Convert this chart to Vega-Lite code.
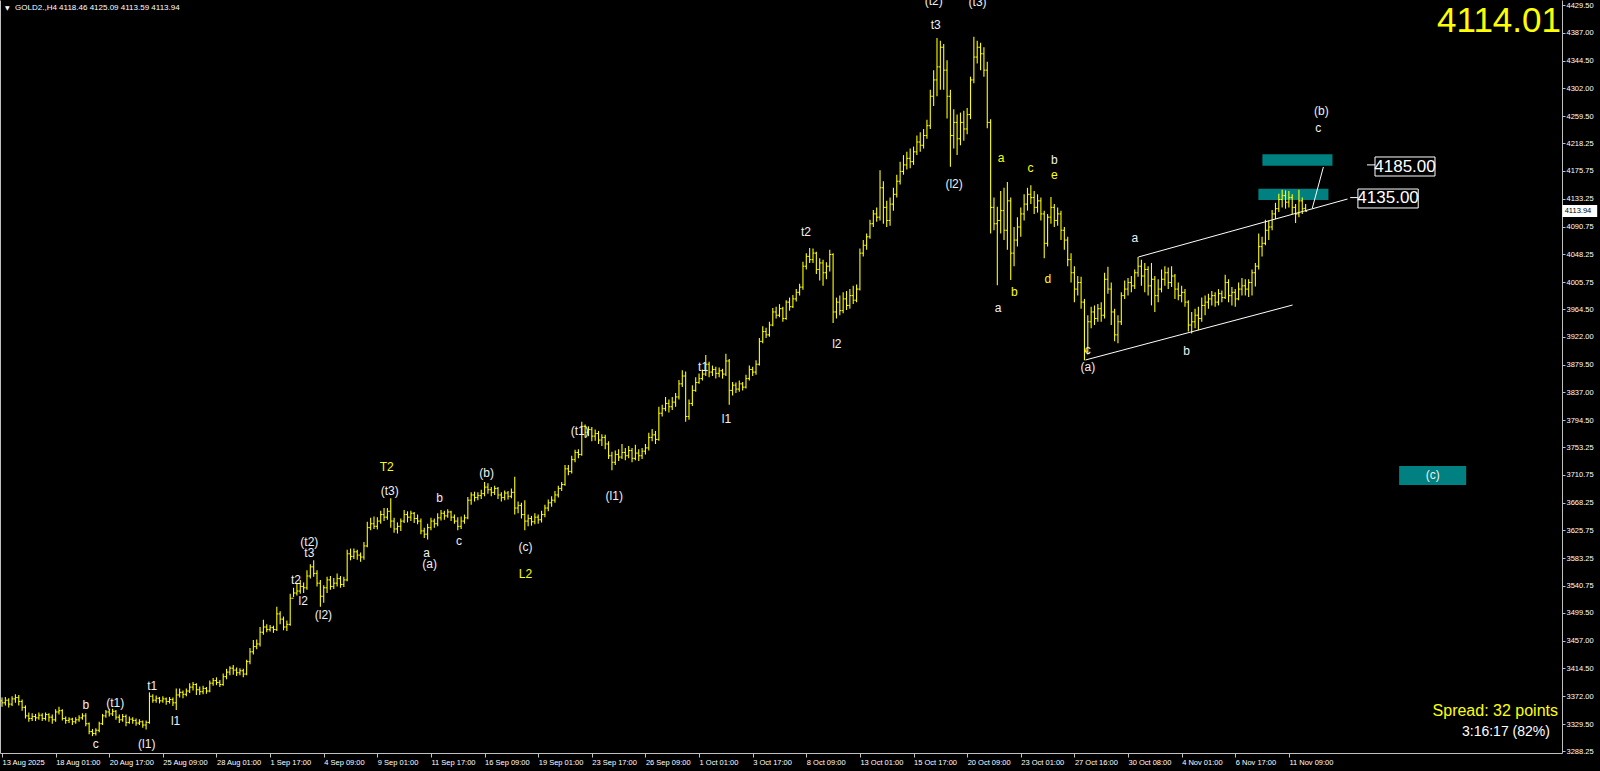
{
"$schema":"https://vega.github.io/schema/vega-lite/v6.json",
"width":1562,"height":753,
"autosize":{"type":"none"},
"padding":{"left":0,"top":0,"right":38,"bottom":18},
"background":"#000000",
"config":{"view":{"stroke":null},"axis":{"grid":false,"title":null,"labelOverlap":false,"labelFlush":false,"labelBound":false}},
"resolve":{"axis":{"y":"independent"}},
"datasets":{
"bars":[
{"i":0,"o":3365,"h":3370,"l":3356,"c":3362},
{"i":1,"o":3362,"h":3371,"l":3358,"c":3366},
{"i":2,"o":3366,"h":3369,"l":3355,"c":3360},
{"i":3,"o":3360,"h":3372,"l":3357,"c":3368},
{"i":4,"o":3368,"h":3375,"l":3362,"c":3370},
{"i":5,"o":3370,"h":3374,"l":3358,"c":3364},
{"i":6,"o":3364,"h":3367,"l":3350,"c":3355},
{"i":7,"o":3355,"h":3358,"l":3338,"c":3342},
{"i":8,"o":3342,"h":3347,"l":3333,"c":3338},
{"i":9,"o":3338,"h":3346,"l":3334,"c":3341},
{"i":10,"o":3341,"h":3345,"l":3334,"c":3339},
{"i":11,"o":3339,"h":3347,"l":3336,"c":3343},
{"i":12,"o":3343,"h":3346,"l":3334,"c":3338},
{"i":13,"o":3338,"h":3347,"l":3335,"c":3344},
{"i":14,"o":3344,"h":3346,"l":3333,"c":3340},
{"i":15,"o":3340,"h":3344,"l":3330,"c":3336},
{"i":16,"o":3336,"h":3352,"l":3333,"c":3348},
{"i":17,"o":3348,"h":3356,"l":3344,"c":3350},
{"i":18,"o":3350,"h":3352,"l":3335,"c":3338},
{"i":19,"o":3338,"h":3341,"l":3330,"c":3335},
{"i":20,"o":3335,"h":3340,"l":3331,"c":3337},
{"i":21,"o":3337,"h":3339,"l":3328,"c":3333},
{"i":22,"o":3333,"h":3340,"l":3330,"c":3336},
{"i":23,"o":3336,"h":3343,"l":3333,"c":3339},
{"i":24,"o":3339,"h":3346,"l":3336,"c":3342},
{"i":25,"o":3342,"h":3346,"l":3326,"c":3330},
{"i":26,"o":3330,"h":3332,"l":3314,"c":3318},
{"i":27,"o":3318,"h":3322,"l":3311,"c":3315},
{"i":28,"o":3315,"h":3323,"l":3312,"c":3320},
{"i":29,"o":3320,"h":3333,"l":3317,"c":3330},
{"i":30,"o":3330,"h":3345,"l":3328,"c":3342},
{"i":31,"o":3342,"h":3351,"l":3339,"c":3348},
{"i":32,"o":3348,"h":3352,"l":3341,"c":3345},
{"i":33,"o":3345,"h":3353,"l":3342,"c":3349},
{"i":34,"o":3349,"h":3351,"l":3336,"c":3340},
{"i":35,"o":3340,"h":3344,"l":3331,"c":3336},
{"i":36,"o":3336,"h":3345,"l":3333,"c":3341},
{"i":37,"o":3341,"h":3344,"l":3326,"c":3332},
{"i":38,"o":3332,"h":3341,"l":3330,"c":3337},
{"i":39,"o":3337,"h":3340,"l":3330,"c":3335},
{"i":40,"o":3335,"h":3338,"l":3327,"c":3331},
{"i":41,"o":3331,"h":3337,"l":3328,"c":3333},
{"i":42,"o":3333,"h":3335,"l":3324,"c":3328},
{"i":43,"o":3328,"h":3335,"l":3321,"c":3332},
{"i":44,"o":3332,"h":3378,"l":3330,"c":3372},
{"i":45,"o":3372,"h":3375,"l":3362,"c":3366},
{"i":46,"o":3366,"h":3373,"l":3362,"c":3369},
{"i":47,"o":3369,"h":3371,"l":3361,"c":3365},
{"i":48,"o":3365,"h":3372,"l":3362,"c":3368},
{"i":49,"o":3368,"h":3370,"l":3359,"c":3364},
{"i":50,"o":3364,"h":3371,"l":3361,"c":3367},
{"i":51,"o":3367,"h":3370,"l":3357,"c":3362},
{"i":52,"o":3362,"h":3384,"l":3351,"c":3374},
{"i":53,"o":3374,"h":3384,"l":3370,"c":3378},
{"i":54,"o":3378,"h":3381,"l":3369,"c":3375},
{"i":55,"o":3375,"h":3384,"l":3372,"c":3380},
{"i":56,"o":3380,"h":3392,"l":3377,"c":3386},
{"i":57,"o":3386,"h":3394,"l":3381,"c":3390},
{"i":58,"o":3390,"h":3392,"l":3374,"c":3382},
{"i":59,"o":3382,"h":3387,"l":3374,"c":3379},
{"i":60,"o":3379,"h":3388,"l":3375,"c":3384},
{"i":61,"o":3384,"h":3386,"l":3376,"c":3380},
{"i":62,"o":3380,"h":3396,"l":3378,"c":3392},
{"i":63,"o":3392,"h":3400,"l":3388,"c":3396},
{"i":64,"o":3396,"h":3401,"l":3389,"c":3393},
{"i":65,"o":3393,"h":3397,"l":3386,"c":3390},
{"i":66,"o":3390,"h":3407,"l":3388,"c":3402},
{"i":67,"o":3402,"h":3414,"l":3398,"c":3409},
{"i":68,"o":3409,"h":3418,"l":3404,"c":3415},
{"i":69,"o":3415,"h":3420,"l":3405,"c":3412},
{"i":70,"o":3412,"h":3416,"l":3403,"c":3408},
{"i":71,"o":3408,"h":3415,"l":3404,"c":3411},
{"i":72,"o":3411,"h":3414,"l":3401,"c":3406},
{"i":73,"o":3406,"h":3428,"l":3404,"c":3425},
{"i":74,"o":3425,"h":3446,"l":3421,"c":3440},
{"i":75,"o":3440,"h":3458,"l":3436,"c":3448},
{"i":76,"o":3448,"h":3459,"l":3444,"c":3452},
{"i":77,"o":3452,"h":3478,"l":3448,"c":3470},
{"i":78,"o":3470,"h":3489,"l":3466,"c":3478},
{"i":79,"o":3478,"h":3482,"l":3470,"c":3474},
{"i":80,"o":3474,"h":3481,"l":3471,"c":3477},
{"i":81,"o":3477,"h":3480,"l":3469,"c":3474},
{"i":82,"o":3474,"h":3509,"l":3472,"c":3498},
{"i":83,"o":3498,"h":3502,"l":3482,"c":3490},
{"i":84,"o":3490,"h":3494,"l":3473,"c":3478},
{"i":85,"o":3478,"h":3488,"l":3472,"c":3482},
{"i":86,"o":3482,"h":3529,"l":3480,"c":3522},
{"i":87,"o":3522,"h":3538,"l":3524,"c":3530},
{"i":88,"o":3530,"h":3545,"l":3526,"c":3533},
{"i":89,"o":3533,"h":3550,"l":3529,"c":3540},
{"i":90,"o":3540,"h":3546,"l":3530,"c":3538},
{"i":91,"o":3538,"h":3565,"l":3535,"c":3556},
{"i":92,"o":3556,"h":3574,"l":3552,"c":3570},
{"i":93,"o":3570,"h":3580,"l":3555,"c":3560},
{"i":94,"o":3560,"h":3565,"l":3540,"c":3545},
{"i":95,"o":3545,"h":3550,"l":3509,"c":3525},
{"i":96,"o":3525,"h":3542,"l":3515,"c":3538},
{"i":97,"o":3538,"h":3555,"l":3530,"c":3550},
{"i":98,"o":3550,"h":3556,"l":3535,"c":3540},
{"i":99,"o":3540,"h":3553,"l":3536,"c":3545},
{"i":100,"o":3545,"h":3560,"l":3540,"c":3552},
{"i":101,"o":3552,"h":3556,"l":3538,"c":3543},
{"i":102,"o":3543,"h":3555,"l":3539,"c":3550},
{"i":103,"o":3550,"h":3596,"l":3548,"c":3590},
{"i":104,"o":3590,"h":3598,"l":3580,"c":3586},
{"i":105,"o":3586,"h":3598,"l":3582,"c":3593},
{"i":106,"o":3593,"h":3596,"l":3581,"c":3588},
{"i":107,"o":3588,"h":3592,"l":3578,"c":3585},
{"i":108,"o":3585,"h":3608,"l":3581,"c":3602},
{"i":109,"o":3602,"h":3639,"l":3600,"c":3630},
{"i":110,"o":3630,"h":3645,"l":3626,"c":3636},
{"i":111,"o":3636,"h":3647,"l":3628,"c":3632},
{"i":112,"o":3632,"h":3646,"l":3627,"c":3640},
{"i":113,"o":3640,"h":3656,"l":3636,"c":3650},
{"i":114,"o":3650,"h":3660,"l":3640,"c":3646},
{"i":115,"o":3646,"h":3660,"l":3642,"c":3655},
{"i":116,"o":3655,"h":3675,"l":3630,"c":3640},
{"i":117,"o":3640,"h":3645,"l":3622,"c":3628},
{"i":118,"o":3628,"h":3638,"l":3621,"c":3632},
{"i":119,"o":3632,"h":3644,"l":3625,"c":3640},
{"i":120,"o":3640,"h":3657,"l":3637,"c":3650},
{"i":121,"o":3650,"h":3655,"l":3638,"c":3646},
{"i":122,"o":3646,"h":3656,"l":3640,"c":3652},
{"i":123,"o":3652,"h":3654,"l":3637,"c":3644},
{"i":124,"o":3644,"h":3650,"l":3635,"c":3640},
{"i":125,"o":3640,"h":3644,"l":3620,"c":3625},
{"i":126,"o":3625,"h":3630,"l":3614,"c":3620},
{"i":127,"o":3620,"h":3636,"l":3612,"c":3630},
{"i":128,"o":3630,"h":3645,"l":3626,"c":3640},
{"i":129,"o":3640,"h":3644,"l":3630,"c":3636},
{"i":130,"o":3636,"h":3652,"l":3632,"c":3645},
{"i":131,"o":3645,"h":3657,"l":3641,"c":3652},
{"i":132,"o":3652,"h":3656,"l":3642,"c":3648},
{"i":133,"o":3648,"h":3658,"l":3645,"c":3654},
{"i":134,"o":3654,"h":3656,"l":3640,"c":3646},
{"i":135,"o":3646,"h":3650,"l":3636,"c":3640},
{"i":136,"o":3640,"h":3646,"l":3626,"c":3632},
{"i":137,"o":3632,"h":3647,"l":3628,"c":3640},
{"i":138,"o":3640,"h":3650,"l":3636,"c":3645},
{"i":139,"o":3645,"h":3677,"l":3643,"c":3672},
{"i":140,"o":3672,"h":3684,"l":3665,"c":3680},
{"i":141,"o":3680,"h":3685,"l":3670,"c":3676},
{"i":142,"o":3676,"h":3684,"l":3672,"c":3679},
{"i":143,"o":3679,"h":3688,"l":3674,"c":3682},
{"i":144,"o":3682,"h":3700,"l":3678,"c":3692},
{"i":145,"o":3692,"h":3698,"l":3682,"c":3688},
{"i":146,"o":3688,"h":3692,"l":3678,"c":3684},
{"i":147,"o":3684,"h":3694,"l":3680,"c":3690},
{"i":148,"o":3690,"h":3692,"l":3674,"c":3680},
{"i":149,"o":3680,"h":3684,"l":3670,"c":3676},
{"i":150,"o":3676,"h":3687,"l":3672,"c":3683},
{"i":151,"o":3683,"h":3686,"l":3673,"c":3678},
{"i":152,"o":3678,"h":3690,"l":3675,"c":3684},
{"i":153,"o":3684,"h":3708,"l":3650,"c":3660},
{"i":154,"o":3660,"h":3670,"l":3652,"c":3664},
{"i":155,"o":3664,"h":3668,"l":3644,"c":3650},
{"i":156,"o":3650,"h":3672,"l":3626,"c":3640},
{"i":157,"o":3640,"h":3650,"l":3632,"c":3644},
{"i":158,"o":3644,"h":3648,"l":3633,"c":3639},
{"i":159,"o":3639,"h":3652,"l":3635,"c":3646},
{"i":160,"o":3646,"h":3650,"l":3636,"c":3642},
{"i":161,"o":3642,"h":3656,"l":3638,"c":3650},
{"i":162,"o":3650,"h":3665,"l":3646,"c":3660},
{"i":163,"o":3660,"h":3673,"l":3655,"c":3668},
{"i":164,"o":3668,"h":3678,"l":3662,"c":3672},
{"i":165,"o":3672,"h":3686,"l":3668,"c":3680},
{"i":166,"o":3680,"h":3694,"l":3676,"c":3690},
{"i":167,"o":3690,"h":3700,"l":3686,"c":3696},
{"i":168,"o":3696,"h":3726,"l":3694,"c":3720},
{"i":169,"o":3720,"h":3726,"l":3710,"c":3716},
{"i":170,"o":3716,"h":3740,"l":3713,"c":3734},
{"i":171,"o":3734,"h":3749,"l":3730,"c":3745},
{"i":172,"o":3745,"h":3750,"l":3736,"c":3742},
{"i":173,"o":3742,"h":3792,"l":3740,"c":3785},
{"i":174,"o":3785,"h":3788,"l":3768,"c":3776},
{"i":175,"o":3776,"h":3785,"l":3770,"c":3780},
{"i":176,"o":3780,"h":3784,"l":3762,"c":3770},
{"i":177,"o":3770,"h":3780,"l":3763,"c":3774},
{"i":178,"o":3774,"h":3778,"l":3758,"c":3764},
{"i":179,"o":3764,"h":3773,"l":3755,"c":3768},
{"i":180,"o":3768,"h":3772,"l":3750,"c":3758},
{"i":181,"o":3758,"h":3762,"l":3735,"c":3740},
{"i":182,"o":3740,"h":3746,"l":3718,"c":3730},
{"i":183,"o":3730,"h":3748,"l":3726,"c":3742},
{"i":184,"o":3742,"h":3750,"l":3732,"c":3738},
{"i":185,"o":3738,"h":3758,"l":3735,"c":3745},
{"i":186,"o":3745,"h":3752,"l":3733,"c":3740},
{"i":187,"o":3740,"h":3755,"l":3736,"c":3748},
{"i":188,"o":3748,"h":3752,"l":3730,"c":3736},
{"i":189,"o":3736,"h":3757,"l":3733,"c":3744},
{"i":190,"o":3744,"h":3750,"l":3732,"c":3740},
{"i":191,"o":3740,"h":3752,"l":3735,"c":3747},
{"i":192,"o":3747,"h":3758,"l":3742,"c":3752},
{"i":193,"o":3752,"h":3775,"l":3748,"c":3768},
{"i":194,"o":3768,"h":3781,"l":3762,"c":3772},
{"i":195,"o":3772,"h":3778,"l":3758,"c":3765},
{"i":196,"o":3765,"h":3815,"l":3763,"c":3805},
{"i":197,"o":3805,"h":3818,"l":3800,"c":3812},
{"i":198,"o":3812,"h":3830,"l":3808,"c":3820},
{"i":199,"o":3820,"h":3826,"l":3806,"c":3815},
{"i":200,"o":3815,"h":3830,"l":3810,"c":3822},
{"i":201,"o":3822,"h":3836,"l":3815,"c":3830},
{"i":202,"o":3830,"h":3856,"l":3826,"c":3850},
{"i":203,"o":3850,"h":3871,"l":3845,"c":3862},
{"i":204,"o":3862,"h":3869,"l":3792,"c":3800},
{"i":205,"o":3800,"h":3826,"l":3795,"c":3820},
{"i":206,"o":3820,"h":3848,"l":3816,"c":3840},
{"i":207,"o":3840,"h":3860,"l":3838,"c":3852},
{"i":208,"o":3852,"h":3866,"l":3850,"c":3858},
{"i":209,"o":3858,"h":3872,"l":3855,"c":3865},
{"i":210,"o":3865,"h":3894,"l":3862,"c":3880},
{"i":211,"o":3880,"h":3884,"l":3860,"c":3868},
{"i":212,"o":3868,"h":3878,"l":3862,"c":3872},
{"i":213,"o":3872,"h":3876,"l":3858,"c":3866},
{"i":214,"o":3866,"h":3875,"l":3860,"c":3870},
{"i":215,"o":3870,"h":3873,"l":3858,"c":3865},
{"i":216,"o":3865,"h":3896,"l":3862,"c":3885},
{"i":217,"o":3885,"h":3888,"l":3818,"c":3840},
{"i":218,"o":3840,"h":3853,"l":3832,"c":3848},
{"i":219,"o":3848,"h":3852,"l":3836,"c":3842},
{"i":220,"o":3842,"h":3855,"l":3838,"c":3850},
{"i":221,"o":3850,"h":3853,"l":3840,"c":3845},
{"i":222,"o":3845,"h":3864,"l":3843,"c":3858},
{"i":223,"o":3858,"h":3878,"l":3855,"c":3872},
{"i":224,"o":3872,"h":3876,"l":3862,"c":3868},
{"i":225,"o":3868,"h":3886,"l":3864,"c":3880},
{"i":226,"o":3880,"h":3920,"l":3878,"c":3915},
{"i":227,"o":3915,"h":3938,"l":3912,"c":3930},
{"i":228,"o":3930,"h":3936,"l":3920,"c":3925},
{"i":229,"o":3925,"h":3945,"l":3922,"c":3940},
{"i":230,"o":3940,"h":3966,"l":3938,"c":3960},
{"i":231,"o":3960,"h":3968,"l":3950,"c":3955},
{"i":232,"o":3955,"h":3972,"l":3952,"c":3965},
{"i":233,"o":3965,"h":3968,"l":3945,"c":3950},
{"i":234,"o":3950,"h":3978,"l":3948,"c":3975},
{"i":235,"o":3975,"h":3982,"l":3962,"c":3968},
{"i":236,"o":3968,"h":3986,"l":3966,"c":3980},
{"i":237,"o":3980,"h":3995,"l":3976,"c":3990},
{"i":238,"o":3990,"h":4003,"l":3985,"c":3998},
{"i":239,"o":3998,"h":4037,"l":3994,"c":4030},
{"i":240,"o":4030,"h":4050,"l":4025,"c":4045},
{"i":241,"o":4045,"h":4058,"l":4035,"c":4040},
{"i":242,"o":4040,"h":4057,"l":4035,"c":4050},
{"i":243,"o":4050,"h":4052,"l":4018,"c":4025},
{"i":244,"o":4025,"h":4042,"l":4008,"c":4035},
{"i":245,"o":4035,"h":4040,"l":4000,"c":4020},
{"i":246,"o":4020,"h":4036,"l":4010,"c":4030},
{"i":247,"o":4030,"h":4055,"l":4022,"c":4048},
{"i":248,"o":4048,"h":4050,"l":3943,"c":3960},
{"i":249,"o":3960,"h":3982,"l":3950,"c":3975},
{"i":250,"o":3975,"h":3985,"l":3955,"c":3962},
{"i":251,"o":3962,"h":3990,"l":3958,"c":3980},
{"i":252,"o":3980,"h":3992,"l":3963,"c":3970},
{"i":253,"o":3970,"h":3995,"l":3965,"c":3985},
{"i":254,"o":3985,"h":4000,"l":3972,"c":3978},
{"i":255,"o":3978,"h":4002,"l":3975,"c":3995},
{"i":256,"o":3995,"h":4057,"l":3993,"c":4050},
{"i":257,"o":4050,"h":4070,"l":4045,"c":4062},
{"i":258,"o":4062,"h":4080,"l":4055,"c":4075},
{"i":259,"o":4075,"h":4101,"l":4072,"c":4095},
{"i":260,"o":4095,"h":4116,"l":4090,"c":4110},
{"i":261,"o":4110,"h":4120,"l":4098,"c":4105},
{"i":262,"o":4105,"h":4177,"l":4100,"c":4150},
{"i":263,"o":4150,"h":4160,"l":4095,"c":4120},
{"i":264,"o":4120,"h":4130,"l":4090,"c":4100},
{"i":265,"o":4100,"h":4135,"l":4092,"c":4125},
{"i":266,"o":4125,"h":4150,"l":4115,"c":4140},
{"i":267,"o":4140,"h":4170,"l":4135,"c":4160},
{"i":268,"o":4160,"h":4190,"l":4155,"c":4175},
{"i":269,"o":4175,"h":4200,"l":4170,"c":4185},
{"i":270,"o":4185,"h":4205,"l":4178,"c":4195},
{"i":271,"o":4195,"h":4210,"l":4180,"c":4190},
{"i":272,"o":4190,"h":4213,"l":4185,"c":4205},
{"i":273,"o":4205,"h":4230,"l":4200,"c":4220},
{"i":274,"o":4220,"h":4235,"l":4205,"c":4215},
{"i":275,"o":4215,"h":4240,"l":4210,"c":4230},
{"i":276,"o":4230,"h":4254,"l":4225,"c":4245},
{"i":277,"o":4245,"h":4300,"l":4240,"c":4290},
{"i":278,"o":4290,"h":4330,"l":4275,"c":4315},
{"i":279,"o":4315,"h":4379,"l":4290,"c":4335},
{"i":280,"o":4335,"h":4375,"l":4300,"c":4365},
{"i":281,"o":4365,"h":4370,"l":4300,"c":4330},
{"i":282,"o":4330,"h":4345,"l":4256,"c":4290},
{"i":283,"o":4290,"h":4300,"l":4182,"c":4230},
{"i":284,"o":4230,"h":4270,"l":4210,"c":4250},
{"i":285,"o":4250,"h":4262,"l":4200,"c":4225},
{"i":286,"o":4225,"h":4265,"l":4215,"c":4250},
{"i":287,"o":4250,"h":4268,"l":4222,"c":4240},
{"i":288,"o":4240,"h":4272,"l":4232,"c":4262},
{"i":289,"o":4262,"h":4320,"l":4255,"c":4315},
{"i":290,"o":4315,"h":4381,"l":4310,"c":4350},
{"i":291,"o":4350,"h":4375,"l":4340,"c":4365},
{"i":292,"o":4365,"h":4372,"l":4330,"c":4355},
{"i":293,"o":4355,"h":4365,"l":4320,"c":4330},
{"i":294,"o":4330,"h":4343,"l":4241,"c":4250},
{"i":295,"o":4250,"h":4255,"l":4080,"c":4120},
{"i":296,"o":4120,"h":4135,"l":4085,"c":4095},
{"i":297,"o":4095,"h":4121,"l":4001,"c":4100},
{"i":298,"o":4100,"h":4145,"l":4080,"c":4115},
{"i":299,"o":4115,"h":4150,"l":4070,"c":4085},
{"i":300,"o":4085,"h":4159,"l":4055,"c":4130},
{"i":301,"o":4130,"h":4135,"l":4009,"c":4050},
{"i":302,"o":4050,"h":4090,"l":4030,"c":4070},
{"i":303,"o":4070,"h":4105,"l":4060,"c":4090},
{"i":304,"o":4090,"h":4120,"l":4075,"c":4110},
{"i":305,"o":4110,"h":4140,"l":4100,"c":4125},
{"i":306,"o":4125,"h":4150,"l":4115,"c":4140},
{"i":307,"o":4140,"h":4154,"l":4125,"c":4135},
{"i":308,"o":4135,"h":4145,"l":4110,"c":4120},
{"i":309,"o":4120,"h":4140,"l":4112,"c":4130},
{"i":310,"o":4130,"h":4135,"l":4100,"c":4110},
{"i":311,"o":4110,"h":4115,"l":4042,"c":4065},
{"i":312,"o":4065,"h":4110,"l":4060,"c":4105},
{"i":313,"o":4105,"h":4136,"l":4095,"c":4120},
{"i":314,"o":4120,"h":4125,"l":4090,"c":4100},
{"i":315,"o":4100,"h":4120,"l":4092,"c":4110},
{"i":316,"o":4110,"h":4115,"l":4070,"c":4085},
{"i":317,"o":4085,"h":4090,"l":4055,"c":4070},
{"i":318,"o":4070,"h":4075,"l":4030,"c":4040},
{"i":319,"o":4040,"h":4050,"l":4005,"c":4020},
{"i":320,"o":4020,"h":4030,"l":3975,"c":3995},
{"i":321,"o":3995,"h":4015,"l":3985,"c":4005},
{"i":322,"o":4005,"h":4014,"l":3965,"c":3975},
{"i":323,"o":3975,"h":3980,"l":3886,"c":3900},
{"i":324,"o":3900,"h":3955,"l":3895,"c":3945},
{"i":325,"o":3945,"h":3968,"l":3935,"c":3960},
{"i":326,"o":3960,"h":3970,"l":3940,"c":3950},
{"i":327,"o":3950,"h":3972,"l":3945,"c":3965},
{"i":328,"o":3965,"h":3975,"l":3945,"c":3955},
{"i":329,"o":3955,"h":4020,"l":3950,"c":4010},
{"i":330,"o":4010,"h":4029,"l":3988,"c":3995},
{"i":331,"o":3995,"h":4005,"l":3940,"c":3960},
{"i":332,"o":3960,"h":3965,"l":3915,"c":3925},
{"i":333,"o":3925,"h":3955,"l":3912,"c":3945},
{"i":334,"o":3945,"h":3990,"l":3940,"c":3985},
{"i":335,"o":3985,"h":4008,"l":3980,"c":3995},
{"i":336,"o":3995,"h":4012,"l":3985,"c":4005},
{"i":337,"o":4005,"h":4015,"l":3990,"c":4000},
{"i":338,"o":4000,"h":4025,"l":3995,"c":4020},
{"i":339,"o":4020,"h":4044,"l":4014,"c":4030},
{"i":340,"o":4030,"h":4040,"l":4000,"c":4015},
{"i":341,"o":4015,"h":4035,"l":3990,"c":4025},
{"i":342,"o":4025,"h":4030,"l":3985,"c":4000},
{"i":343,"o":4000,"h":4035,"l":3970,"c":4010},
{"i":344,"o":4010,"h":4015,"l":3960,"c":3985},
{"i":345,"o":3985,"h":4010,"l":3975,"c":3995},
{"i":346,"o":3995,"h":4025,"l":3990,"c":4010},
{"i":347,"o":4010,"h":4030,"l":4000,"c":4020},
{"i":348,"o":4020,"h":4028,"l":3995,"c":4005},
{"i":349,"o":4005,"h":4030,"l":3998,"c":4015},
{"i":350,"o":4015,"h":4018,"l":3980,"c":3995},
{"i":351,"o":3995,"h":4005,"l":3978,"c":3985},
{"i":352,"o":3985,"h":4000,"l":3975,"c":3990},
{"i":353,"o":3990,"h":3995,"l":3968,"c":3975},
{"i":354,"o":3975,"h":3978,"l":3930,"c":3940},
{"i":355,"o":3940,"h":3960,"l":3927,"c":3945},
{"i":356,"o":3945,"h":3965,"l":3935,"c":3955},
{"i":357,"o":3955,"h":3968,"l":3932,"c":3950},
{"i":358,"o":3950,"h":3982,"l":3945,"c":3970},
{"i":359,"o":3970,"h":3985,"l":3955,"c":3975},
{"i":360,"o":3975,"h":3988,"l":3965,"c":3980},
{"i":361,"o":3980,"h":3992,"l":3970,"c":3985},
{"i":362,"o":3985,"h":3990,"l":3968,"c":3975},
{"i":363,"o":3975,"h":3995,"l":3970,"c":3988},
{"i":364,"o":3988,"h":3993,"l":3975,"c":3982},
{"i":365,"o":3982,"h":4017,"l":3980,"c":4005},
{"i":366,"o":4005,"h":4010,"l":3975,"c":3985},
{"i":367,"o":3985,"h":3998,"l":3970,"c":3990},
{"i":368,"o":3990,"h":3995,"l":3968,"c":3980},
{"i":369,"o":3980,"h":4005,"l":3978,"c":3995},
{"i":370,"o":3995,"h":4012,"l":3985,"c":4000},
{"i":371,"o":4000,"h":4010,"l":3985,"c":3995},
{"i":372,"o":3995,"h":4010,"l":3983,"c":4005},
{"i":373,"o":4005,"h":4025,"l":3985,"c":4020},
{"i":374,"o":4020,"h":4035,"l":3999,"c":4030},
{"i":375,"o":4030,"h":4080,"l":4025,"c":4060},
{"i":376,"o":4060,"h":4075,"l":4045,"c":4065},
{"i":377,"o":4065,"h":4101,"l":4062,"c":4085},
{"i":378,"o":4085,"h":4100,"l":4070,"c":4090},
{"i":379,"o":4090,"h":4116,"l":4085,"c":4110},
{"i":380,"o":4110,"h":4127,"l":4102,"c":4118},
{"i":381,"o":4118,"h":4141,"l":4113,"c":4132},
{"i":382,"o":4132,"h":4147,"l":4120,"c":4138},
{"i":383,"o":4138,"h":4146,"l":4118,"c":4128},
{"i":384,"o":4128,"h":4145,"l":4120,"c":4135},
{"i":385,"o":4135,"h":4140,"l":4110,"c":4120},
{"i":386,"o":4120,"h":4125,"l":4096,"c":4110},
{"i":387,"o":4110,"h":4147,"l":4105,"c":4130},
{"i":388,"o":4130,"h":4135,"l":4110,"c":4118},
{"i":389,"o":4118.46,"h":4125.09,"l":4113.59,"c":4113.94}
],
"segs":[
{"i1":339.1,"p1":4044.1,"i2":401.5,"p2":4132.8},
{"i1":323.3,"p1":3886.5,"i2":385.1,"p2":3970.6},
{"i1":391.0,"p1":4119,"i2":394.3,"p2":4181.8},
{"i1":402.3,"p1":4135,"i2":404.6,"p2":4135},
{"i1":407.3,"p1":4185,"i2":409.7,"p2":4185}
],
"teal":[
{"i1":376.1,"i2":397.0,"p1":4183.8,"p2":4201.2},
{"i1":374.9,"i2":395.8,"p1":4131.3,"p2":4148.6},
{"i1":416.9,"i2":436.9,"p1":3695.3,"p2":3724.3}
],
"boxes":[
{"i1":409.7,"i2":427.6,"p1":4168.0,"p2":4197.1,"t":"4185.00"},
{"i1":404.6,"i2":422.6,"p1":4119.1,"p2":4148.1,"t":"4135.00"}
],
"notes":[
{"i":25.0,"p":3358.5,"t":"b","k":"w"},
{"i":33.8,"p":3361.6,"t":"(t1)","k":"w"},
{"i":28.0,"p":3299.1,"t":"c","k":"w"},
{"i":44.8,"p":3388.2,"t":"t1","k":"w"},
{"i":43.2,"p":3299.1,"t":"(l1)","k":"w"},
{"i":51.8,"p":3333.5,"t":"l1","k":"w"},
{"i":91.7,"p":3608.4,"t":"(t2)","k":"w"},
{"i":91.7,"p":3591.1,"t":"t3","k":"w"},
{"i":87.7,"p":3550.5,"t":"t2","k":"w"},
{"i":89.9,"p":3517.8,"t":"l2","k":"w"},
{"i":95.9,"p":3495.9,"t":"(l2)","k":"w"},
{"i":114.8,"p":3722.3,"t":"T2","k":"y"},
{"i":115.7,"p":3686.4,"t":"(t3)","k":"w"},
{"i":130.6,"p":3675.4,"t":"b","k":"w"},
{"i":126.7,"p":3591.5,"t":"a","k":"w"},
{"i":127.6,"p":3573.9,"t":"(a)","k":"w"},
{"i":136.4,"p":3609.9,"t":"c","k":"w"},
{"i":144.6,"p":3712.9,"t":"(b)","k":"w"},
{"i":156.2,"p":3600.5,"t":"(c)","k":"w"},
{"i":156.2,"p":3559.8,"t":"L2","k":"y"},
{"i":172.4,"p":3778.5,"t":"(t1)","k":"w"},
{"i":182.7,"p":3678.6,"t":"(l1)","k":"w"},
{"i":209.2,"p":3875.3,"t":"t1","k":"w"},
{"i":216.2,"p":3795.6,"t":"l1","k":"w"},
{"i":239.9,"p":4082.9,"t":"t2","k":"w"},
{"i":249.1,"p":3911.1,"t":"l2","k":"w"},
{"i":278.6,"p":4398.3,"t":"t3","k":"w"},
{"i":278.0,"p":4435.5,"t":"(t2)","k":"w"},
{"i":291.1,"p":4434.0,"t":"(t3)","k":"w"},
{"i":284.1,"p":4156.2,"t":"(l2)","k":"w"},
{"i":298.1,"p":4195.3,"t":"a","k":"y"},
{"i":297.2,"p":3965.8,"t":"a","k":"w"},
{"i":302.1,"p":3990.8,"t":"b","k":"y"},
{"i":306.9,"p":4179.7,"t":"c","k":"y"},
{"i":314.0,"p":4192.2,"t":"b","k":"w"},
{"i":314.0,"p":4170.3,"t":"e","k":"y"},
{"i":312.1,"p":4011.1,"t":"d","k":"y"},
{"i":324.0,"p":3901.8,"t":"c","k":"w"},
{"i":324.0,"p":3875.3,"t":"(a)","k":"w"},
{"i":338.0,"p":4073.5,"t":"a","k":"w"},
{"i":353.5,"p":3900.3,"t":"b","k":"w"},
{"i":393.7,"p":4267.2,"t":"(b)","k":"w"},
{"i":392.8,"p":4242.1,"t":"c","k":"w"},
{"i":426.9,"p":3709.8,"t":"(c)","k":"w"}
]
},
"layer":[
{"data":{"name":"teal"},"mark":{"type":"rect","fill":"#008080"},
 "encoding":{
 "x":{"field":"i1","type":"quantitative","scale":{"domain":[-0.6,465.5],"nice":false,"zero":false},
  "axis":{"orient":"bottom","values":[0,16,32,48,64,80,96,112,128,144,160,176,192,208,224,240,256,272,288,304,320,336,352,368,384],"tickCount":100,
  "labelExpr":"['13 Aug 2025','18 Aug 01:00','20 Aug 17:00','25 Aug 09:00','28 Aug 01:00','1 Sep 17:00','4 Sep 09:00','9 Sep 01:00','11 Sep 17:00','16 Sep 09:00','19 Sep 01:00','23 Sep 17:00','26 Sep 09:00','1 Oct 01:00','3 Oct 17:00','8 Oct 09:00','13 Oct 01:00','15 Oct 17:00','20 Oct 09:00','23 Oct 01:00','27 Oct 16:00','30 Oct 08:00','4 Nov 01:00','6 Nov 17:00','11 Nov 09:00'][round(datum.value/16)]",
  "labelAlign":"left","labelBaseline":"top","labelPadding":1,"tickSize":4,"tickColor":"#c0c0c0","domainColor":"#c0c0c0","labelColor":"#ffffff","labelFont":"Liberation Sans","labelFontSize":7.5,"labelOverlap":false,"labelFlush":false,"labelBound":false,"title":null,"grid":false}},
 "x2":{"field":"i2"},
 "y":{"field":"p1","type":"quantitative","scale":{"domain":[3285.2,4437.3],"nice":false,"zero":false},
  "axis":{"orient":"right","values":[4429.5,4387,4344.5,4302,4259.5,4218.25,4175.75,4133.25,4090.75,4048.25,4005.75,3964.5,3922,3879.5,3837,3794.5,3753.25,3710.75,3668.25,3625.75,3583.25,3540.75,3499.5,3457,3414.5,3372,3329.5,3288.25],"tickCount":100,
  "format":".2f","labelPadding":1,"tickSize":3,"tickColor":"#c0c0c0","domainColor":"#c0c0c0","labelColor":"#ffffff","labelFont":"Liberation Sans","labelFontSize":7.5,"labelOverlap":false,"labelFlush":false,"labelBound":false,"title":null,"grid":false}},
 "y2":{"field":"p2"}}},
{"data":{"name":"bars"},"mark":{"type":"rule","color":"#ffff00","strokeWidth":1.1},
 "encoding":{"x":{"field":"i","type":"quantitative"},"y":{"field":"h","type":"quantitative","axis":{"orient":"left","labels":false,"ticks":false,"domainColor":"#c0c0c0","title":null,"grid":false}},"y2":{"field":"l"}}},
{"data":{"name":"bars"},"mark":{"type":"rule","color":"#ffff00","strokeWidth":1,"xOffset":-1.5},
 "encoding":{"x":{"field":"i","type":"quantitative"},"x2":{"field":"i"},"y":{"field":"o","type":"quantitative","axis":null}}},
{"data":{"name":"bars"},"mark":{"type":"rule","color":"#ffff00","strokeWidth":1,"x2Offset":1.5},
 "encoding":{"x":{"field":"i","type":"quantitative"},"x2":{"field":"i"},"y":{"field":"c","type":"quantitative","axis":null}}},
{"data":{"name":"segs"},"mark":{"type":"rule","color":"#ffffff","strokeWidth":1},
 "encoding":{"x":{"field":"i1","type":"quantitative"},"x2":{"field":"i2"},"y":{"field":"p1","type":"quantitative","axis":null},"y2":{"field":"p2"}}},
{"data":{"name":"boxes"},"mark":{"type":"rect","fill":"#000000","stroke":"#ffffff","strokeWidth":1},
 "encoding":{"x":{"field":"i1","type":"quantitative"},"x2":{"field":"i2"},"y":{"field":"p1","type":"quantitative","axis":null},"y2":{"field":"p2"}}},
{"data":{"name":"boxes"},"transform":[{"calculate":"(datum.i1+datum.i2)/2","as":"ic"},{"calculate":"(datum.p1+datum.p2)/2","as":"pc"}],
 "mark":{"type":"text","color":"#ffffff","font":"Liberation Sans","fontSize":17,"align":"center","baseline":"middle"},
 "encoding":{"x":{"field":"ic","type":"quantitative"},"y":{"field":"pc","type":"quantitative","axis":null},"text":{"field":"t"}}},
{"data":{"name":"notes"},"mark":{"type":"text","font":"Liberation Sans","fontSize":12,"align":"center","baseline":"middle"},
 "encoding":{"x":{"field":"i","type":"quantitative"},"y":{"field":"p","type":"quantitative","axis":null},"text":{"field":"t"},
 "color":{"field":"k","type":"nominal","scale":{"domain":["w","y"],"range":["#f0f0f0","#ffff00"]},"legend":null}}},
{"data":{"values":[{"i":465.6,"i2":476.0,"p":4105.3,"p2":4123.7}]},"mark":{"type":"rect","fill":"#ffffff"},
 "encoding":{"x":{"field":"i","type":"quantitative"},"x2":{"field":"i2"},"y":{"field":"p","type":"quantitative","axis":null},"y2":{"field":"p2"}}},
{"data":{"values":[{"i":466.3,"p":4114.3,"t":"4113.94"}]},"mark":{"type":"text","color":"#000000","font":"Liberation Sans","fontSize":7.5,"align":"left","baseline":"middle"},
 "encoding":{"x":{"field":"i","type":"quantitative"},"y":{"field":"p","type":"quantitative","axis":null},"text":{"field":"t"}}},
{"data":{"values":[{"i":465.2,"p":4405.5,"t":"4114.01"}]},"mark":{"type":"text","color":"#ffff00","font":"Liberation Sans","fontSize":35,"align":"right","baseline":"middle"},
 "encoding":{"x":{"field":"i","type":"quantitative"},"y":{"field":"p","type":"quantitative","axis":null},"text":{"field":"t"}}},
{"data":{"values":[{"i":464.3,"p":3350.2,"t":"Spread: 32 points"}]},"mark":{"type":"text","color":"#ffff00","font":"Liberation Sans","fontSize":16,"align":"right","baseline":"middle"},
 "encoding":{"x":{"field":"i","type":"quantitative"},"y":{"field":"p","type":"quantitative","axis":null},"text":{"field":"t"}}},
{"data":{"values":[{"i":461.9,"p":3318.0,"t":"3:16:17 (82%)"}]},"mark":{"type":"text","color":"#ffffff","font":"Liberation Sans","fontSize":14,"align":"right","baseline":"middle"},
 "encoding":{"x":{"field":"i","type":"quantitative"},"y":{"field":"p","type":"quantitative","axis":null},"text":{"field":"t"}}},
{"data":{"values":[{"i":3.9,"p":4425.0,"t":"GOLD2.,H4  4118.46 4125.09 4113.59 4113.94"}]},"mark":{"type":"text","color":"#ffffff","font":"Liberation Sans","fontSize":8,"align":"left","baseline":"middle"},
 "encoding":{"x":{"field":"i","type":"quantitative"},"y":{"field":"p","type":"quantitative","axis":null},"text":{"field":"t"}}},
{"data":{"values":[{"i":1.6,"p":4425.3,"t":"▼"}]},"mark":{"type":"text","color":"#ffffff","font":"DejaVu Sans","fontSize":6,"align":"center","baseline":"middle"},
 "encoding":{"x":{"field":"i","type":"quantitative"},"y":{"field":"p","type":"quantitative","axis":null},"text":{"field":"t"}}}
]
}
